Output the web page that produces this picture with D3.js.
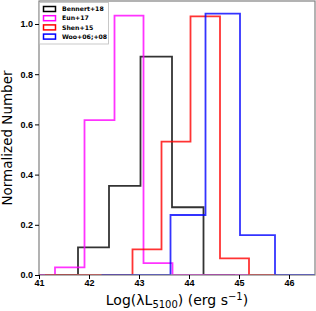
<!DOCTYPE html>
<html>
<head>
<meta charset="utf-8">
<script src="https://cdn.jsdelivr.net/npm/d3@7"></script>
<style>
  body { margin: 0; background: #fff; }
  svg { display: block; font-family: "DejaVu Sans", sans-serif; }
  .tick text { font-weight: bold; font-size: 9px; fill: #000; }
  .tick line { stroke: #000; }
  .domain { display: none; }
</style>
</head>
<body>
<svg width="316" height="311"></svg>
<script>
// bin edges and normalized heights
var bennertEdges = [40.52, 41.15, 41.78, 42.40, 43.03, 43.66, 44.29, 44.92];
var bennertVals  = [0, 0, 0.11, 0.355, 0.87, 0.27, 0];
var eunEdges = [40.73, 41.32, 41.91, 42.51, 43.09, 43.67, 44.26, 44.85, 45.20];
var eunVals  = [0, 0.03, 0.617, 1.033, 0.047, 0, 0, 0];
var shenEdges = [41.12, 41.70, 42.29, 42.87, 43.45, 44.03, 44.62, 45.20, 45.75];
var shenVals  = [0, 0, 0, 0.102, 0.531, 1.03, 0.066, 0];
var wooEdges = [42.25, 42.94, 43.63, 44.33, 45.02, 45.72, 46.41, 47.1];
var wooVals  = [0, 0, 0.239, 1.041, 0.159, 0, 0];

var seriesNames = ["Bennert+18", "Eun+17", "Shen+15", "Woo+06;+08"];
var seriesColors = ["#000000", "#ff00ff", "#ff0000", "#0000ff"];

var xTicks = [41, 42, 43, 44, 45, 46];
var yTicks = [0.0, 0.2, 0.4, 0.6, 0.8, 1.0];

var series = [
  {edges: bennertEdges, vals: bennertVals},
  {edges: eunEdges, vals: eunVals},
  {edges: shenEdges, vals: shenVals},
  {edges: wooEdges, vals: wooVals}
];

const svg = d3.select('svg');
const pLeft = 39, pRight = 315, pTop = 1, pBottom = 275;

const x = d3.scaleLinear().domain([41, 46.52]).range([pLeft, pRight]);
const y = d3.scaleLinear().domain([0, 1.0916]).range([pBottom, pTop]);

svg.append('defs').append('clipPath').attr('id', 'clip')
  .append('rect')
  .attr('x', pLeft).attr('y', pTop)
  .attr('width', pRight - pLeft).attr('height', pBottom - pTop);

// step outline like histtype='step'
function stepPath(s) {
  const p = d3.path();
  p.moveTo(x(s.edges[0]), y(0));
  s.vals.forEach((v, i) => {
    p.lineTo(x(s.edges[i]), y(v));
    p.lineTo(x(s.edges[i + 1]), y(v));
  });
  p.lineTo(x(s.edges[s.edges.length - 1]), y(0));
  return p.toString();
}

const plot = svg.append('g').attr('clip-path', 'url(#clip)');
plot.selectAll('path.hist')
  .data(series)
  .enter()
  .append('path')
  .attr('class', 'hist')
  .attr('d', stepPath)
  .attr('fill', 'none')
  .attr('stroke', (d, i) => seriesColors[i])
  .attr('stroke-opacity', 0.8)
  .attr('stroke-width', 1.8);

// frame
svg.append('rect')
  .attr('x', pLeft).attr('y', pTop)
  .attr('width', pRight - pLeft).attr('height', pBottom - pTop)
  .attr('fill', 'none')
  .attr('stroke', '#808080')
  .attr('stroke-width', 1.2);

svg.append('g')
  .attr('transform', `translate(0, ${pBottom})`)
  .call(d3.axisBottom(x).tickValues(xTicks).tickSize(4).tickPadding(1).tickFormat(d3.format('d')));

svg.append('g')
  .attr('transform', `translate(${pLeft}, 0)`)
  .call(d3.axisLeft(y).tickValues(yTicks).tickSize(4).tickPadding(2).tickFormat(d3.format('.1f')));

// axis labels
svg.append('text')
  .attr('transform', `translate(12, ${(pTop + pBottom) / 2}) rotate(-90)`)
  .attr('text-anchor', 'middle')
  .attr('font-size', 13.5)
  .text('Normalized Number');

const xl = svg.append('text')
  .attr('x', (pLeft + pRight) / 2)
  .attr('y', 305)
  .attr('text-anchor', 'middle')
  .attr('font-size', 14);
xl.append('tspan').text('Log(λL');
xl.append('tspan').attr('font-size', 10).attr('dy', 3).text('5100');
xl.append('tspan').attr('dy', -3).text(') (erg s');
xl.append('tspan').attr('font-size', 10).attr('dy', -5).text('−1');
xl.append('tspan').attr('dy', 5).text(')');

// legend
const legend = svg.append('g');
legend.append('rect')
  .attr('x', 39.5).attr('y', 2.5)
  .attr('width', 69).attr('height', 41.5)
  .attr('fill', '#fff')
  .attr('stroke', '#bbb')
  .attr('stroke-width', 0.8);

const rows = legend.selectAll('g.row')
  .data(seriesNames)
  .enter()
  .append('g')
  .attr('transform', (d, i) => `translate(0, ${9 + i * 9.2})`);

rows.append('rect')
  .attr('x', 43.5).attr('y', -2.5)
  .attr('width', 12).attr('height', 5)
  .attr('fill', '#fff')
  .attr('stroke', (d, i) => seriesColors[i])
  .attr('stroke-width', 1.5);

rows.append('text')
  .attr('x', 62)
  .attr('y', 2.2)
  .attr('font-size', 6.2)
  .attr('font-weight', 'bold')
  .text(d => d);
</script>
</body>
</html>
